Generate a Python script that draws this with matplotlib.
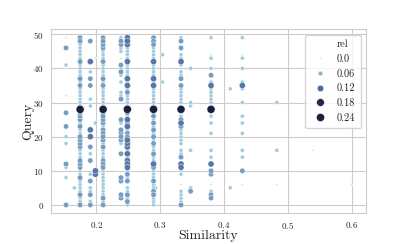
import numpy as np
import matplotlib
matplotlib.use("Agg")
import matplotlib.pyplot as plt
import seaborn as sns
from matplotlib.lines import Line2D
from matplotlib.colors import LinearSegmentedColormap

t, s, m, M, D = 0.005, 0.04, 0.08, 0.11, 0.2

# one column of points per similarity value: query ids and their rel
q_153 = [49, 46, 41, 40, 32, 27, 23, 20, 18, 12, 11, 8, 0]
r_153 = [t, m, s, t, t, m, m, s, s, m, s, s, m]
q_166 = [5]
r_166 = [s]
q_175 = list(range(50))
r_175 = [m if q in (49, 48, 42, 37, 35, 27, 26, 25, 23, 20, 19, 18, 17, 13, 12, 11, 8, 3, 0)
         else D if q == 28 else s for q in q_175]
q_191 = [48, 42, 39, 37, 35, 31, 29, 22, 20, 17, 15, 13, 9, 7, 5, 4, 3, 1, 0]
r_191 = [m, M, s, m, m, s, s, M, M, m, s, m, s, m, s, s, m, s, m]
q_200 = [43, 24, 10, 9]
r_200 = [t, s, M, M]
q_211 = list(range(50))
r_211 = [m if q in (49, 48, 47, 46, 42, 37, 35, 27, 26, 25, 24, 22, 21, 20, 19, 17, 13, 12, 11, 2, 0)
         else D if q == 28 else s for q in q_211]
q_239 = [49, 48, 47, 46, 45, 43, 41, 40, 39, 38, 36, 33, 32, 31, 25, 24, 22, 21, 20, 19, 18, 15, 8, 7, 3, 2]
r_239 = [s, m, m, s, s, t, m, s, m, s, s, s, s, m, m, s, m, m, m, m, s, m, m, m, m, m]
q_249 = [q for q in range(50) if q not in (6,)]
r_249 = [M if q in (49, 48, 47, 42, 37, 35, 25, 23, 19, 18, 17, 15, 13, 12, 11)
         else m if q in (33, 27, 24, 21, 20, 9, 7, 3, 1)
         else D if q == 28 else s for q in q_249]
q_290 = list(range(50))
r_290 = [M if q in (42, 37, 35, 12)
         else m if q in (49, 48, 47, 26, 24, 22, 20, 18, 15, 11, 7, 4, 3)
         else D if q == 28 else s for q in q_290]
q_293 = [5]
r_293 = [s]
q_304 = [44, 36]
r_304 = [s, s]
q_333 = [49, 48, 46, 44, 43, 42, 41, 39, 38, 37, 35, 34, 33, 32, 31, 30, 28, 26, 25, 24, 23, 22,
         21, 20, 19, 18, 16, 15, 14, 12, 11, 9, 6, 4, 3, 2, 1, 0]
r_333 = [s, m, m, s, s, M, s, s, s, m, m, s, s, s, s, s, D, s, m, M, m, s,
         s, s, s, s, s, s, m, M, M, s, t, s, s, s, s, m]
q_348 = [40, 30, 29, 16, 5, 4]
r_348 = [s, s, s, s, s, m]
q_380 = [49, 44, 43, 40, 38, 36, 35, 34, 33, 32, 31, 30, 28, 26, 24, 21, 16, 14, 12, 10, 9, 6, 4, 3, 2]
r_380 = [s, t, s, s, m, s, M, s, s, s, s, s, D, s, s, s, s, s, M, m, m, t, s, m, m]
q_410 = [34, 5]
r_410 = [s, s]
q_430 = [49, 44, 43, 40, 36, 35, 34, 30, 26, 24, 21, 16, 14, 10, 6]
r_430 = [s, t, s, s, s, M, s, s, s, s, s, s, s, m, t]
q_483 = [30, 16, 6]
r_483 = [s, s, t]
q_540 = [16]
r_540 = [t]
q_600 = [6]
r_600 = [t]

columns = [
    (0.153, q_153, r_153), (0.166, q_166, r_166), (0.175, q_175, r_175),
    (0.191, q_191, r_191), (0.199, q_200, r_200), (0.211, q_211, r_211),
    (0.239, q_239, r_239), (0.249, q_249, r_249), (0.29, q_290, r_290),
    (0.293, q_293, r_293), (0.304, q_304, r_304), (0.333, q_333, r_333),
    (0.348, q_348, r_348), (0.38, q_380, r_380), (0.41, q_410, r_410),
    (0.429, q_430, r_430), (0.483, q_483, r_483), (0.54, q_540, r_540),
    (0.6, q_600, r_600),
]

legend_levels = [0.0, 0.06, 0.12, 0.18, 0.24]
legend_labels = ["0.0", "0.06", "0.12", "0.18", "0.24"]

sim = np.concatenate([[x] * len(q) for x, q, r in columns])
query = np.concatenate([q for x, q, r in columns])
rel = np.concatenate([r for x, q, r in columns])

sns.set_style("whitegrid")
plt.rcParams["font.family"] = ["cmr10", "DejaVu Serif"]
plt.rcParams["axes.formatter.use_mathtext"] = True

# light cyan -> sky blue -> steel blue -> navy, as in the reference legend
cmap = LinearSegmentedColormap.from_list(
    "rel", [(0, "#cde9ec"), (0.25, "#93c3d9"), (0.55, "#5676a6"), (0.85, "#262b50"), (1, "#1c1f3c")])
norm = matplotlib.colors.Normalize(0, 0.2)


def area(r):
    return 2 + 160 * np.clip(r, 0, 0.2)


fig = plt.figure(figsize=(4.07, 2.44), dpi=100)
ax = fig.add_axes([0.1246, 0.1258, 0.7745, 0.754])

order = np.argsort(rel)
ax.scatter(sim[order], query[order], s=area(rel[order]), c=cmap(norm(rel[order])),
           edgecolors="white", linewidths=0.3, zorder=3)

ax.set_xlim(0.129, 0.6225)
ax.set_ylim(-2.45, 51.45)
ax.set_xticks([0.2, 0.3, 0.4, 0.5, 0.6])
ax.set_yticks([0, 10, 20, 30, 40, 50])
ax.tick_params(labelsize=6.5, pad=1.5)
ax.set_xlabel("Similarity", fontsize=10, labelpad=-1)
ax.set_ylabel("Query", fontsize=10, labelpad=-1)

handles = [Line2D([], [], linestyle="none", marker="")]
for lv in legend_levels:
    handles.append(Line2D([], [], linestyle="none", marker="o",
                          markersize=np.sqrt(area(lv)), markerfacecolor=cmap(norm(lv)),
                          markeredgecolor="white", markeredgewidth=0.3))
ax.legend(handles, ["rel"] + legend_labels, loc="upper right", fontsize=7.5,
          handletextpad=0.6, borderpad=0.5)

fig.savefig("out.png", dpi=100)
